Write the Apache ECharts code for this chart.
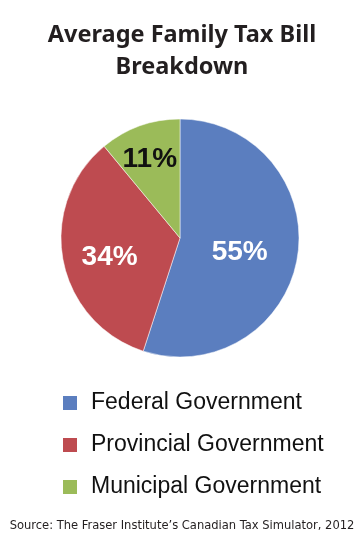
<!DOCTYPE html>
<html>
<head>
<meta charset="utf-8">
<script src="https://cdn.jsdelivr.net/npm/echarts@6/dist/echarts.min.js"></script>
<style>
  html, body { margin: 0; padding: 0; background: #fff; }
  #pie { width: 364px; height: 556px; }
</style>
</head>
<body>
<div id="pie"></div>
<script>
var categories = ['Federal Government', 'Provincial Government', 'Municipal Government'];
var shares = [55, 34, 11];
var colors = ['#5b7ebf', '#be4b50', '#9bbb59'];
var labelColors = ['#ffffff', '#ffffff', '#111111'];

// nudges so the labels sit where the original put them
var labelOffsets = [[-2, 5], [-9, 8], [-9, -20]];

var seriesData = categories.map(function (name, i) {
    return {
        name: name,
        value: shares[i],
        itemStyle: { color: colors[i] },
        label: { color: labelColors[i], offset: labelOffsets[i] }
    };
});

var option = {
    animation: false,
    title: [
        {
            text: 'Average Family Tax Bill\nBreakdown',
            left: 'center',
            top: 14,
            textStyle: {
                fontFamily: 'Noto Sans',
                fontWeight: 'bold',
                fontSize: 23.5,
                lineHeight: 32,
                color: '#231f20'
            }
        },
        {
            text: 'Source: The Fraser Institute\u2019s Canadian Tax Simulator, 2012',
            left: 'center',
            top: 514,
            textStyle: {
                fontFamily: 'DejaVu Sans Condensed',
                fontWeight: 'normal',
                fontSize: 12.8,
                color: '#231f20'
            }
        }
    ],
    legend: {
        orient: 'vertical',
        left: 61,
        top: 391,
        padding: 0,
        itemWidth: 16,
        itemHeight: 16,
        itemGap: 18,
        icon: 'rect',
        data: categories,
        textStyle: {
            fontFamily: 'Liberation Sans',
            fontSize: 23,
            lineHeight: 24,
            color: '#111',
            padding: [0, 0, 0, 8]
        }
    },
    series: [
        {
            name: 'Average Family Tax Bill',
            type: 'pie',
            radius: [0, 119],
            center: [180, 238],
            startAngle: 90,
            clockwise: true,
            itemStyle: { borderColor: '#fff', borderWidth: 0.5 },
            label: {
                show: true,
                position: 'inner',
                formatter: '{c}%',
                fontFamily: 'Liberation Sans',
                fontWeight: 'bold',
                fontSize: 28
            },
            labelLine: { show: false },
            data: seriesData
        }
    ]
};

var chart = echarts.init(document.getElementById('pie'));
chart.setOption(option);
</script>
</body>
</html>
